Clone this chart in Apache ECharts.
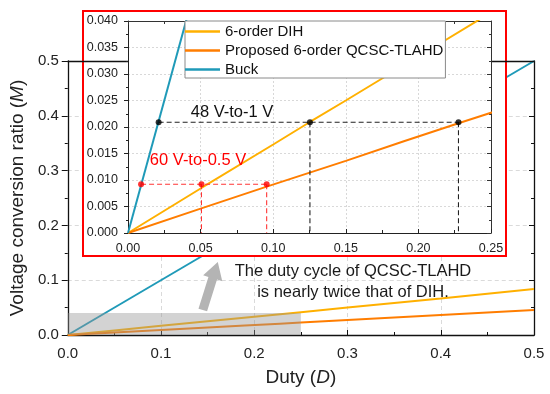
<!DOCTYPE html>
<html>
<head>
<meta charset="utf-8">
<script src="https://cdn.jsdelivr.net/npm/echarts@6/dist/echarts.min.js"></script>
<style>
html,body{margin:0;padding:0;background:#fff;}
#c{width:550px;height:394px;}
</style>
</head>
<body>
<div id="c"></div>
<script>
// ---- data ----
const seriesNames = ['6-order DIH', 'Proposed 6-order QCSC-TLAHD', 'Buck'];
const dutyDIH = [0, 0.05, 0.1, 0.125, 0.15, 0.2, 0.25, 0.3, 0.4, 0.5];
const mDIH = [0, 0.0084, 0.0167, 0.0209, 0.025, 0.0333, 0.0416, 0.05, 0.0667, 0.0838];
const dutyQ = [0, 0.05, 0.095, 0.15, 0.19, 0.2276, 0.25, 0.3, 0.4, 0.5];
const mQ = [0, 0.0046, 0.0087, 0.0136, 0.0173, 0.0207, 0.0227, 0.0272, 0.0363, 0.0455];
const dutyBuck = [0, 0.5];
const mBuck = [0, 0.5];
// operating points 48 V-to-1 V (black) and 60 V-to-0.5 V (red)
const pts48D = [0.0211, 0.1253, 0.2276];
const pts48M = [0.0209, 0.0209, 0.0209];
const pts60D = [0.009, 0.0506, 0.0955];
const pts60M = [0.0092, 0.0092, 0.0092];
// highlighted region in main plot
const zoomRegionD = [0, 0.25];
const zoomRegionM = [0, 0.04];
// arrow (tail, tip) in main data coords
const arrowD = [0.1448, 0.1609];
const arrowM = [0.0456, 0.1332];
// ticks
const mainXTicks = [0, 0.1, 0.2, 0.3, 0.4, 0.5];
const mainYTicks = [0, 0.1, 0.2, 0.3, 0.4, 0.5];
const insetXTicks = [0, 0.05, 0.1, 0.15, 0.2, 0.25];
const insetYTicks = [0, 0.005, 0.01, 0.015, 0.02, 0.025, 0.03, 0.035, 0.04];

const colors = ['#ffb000', '#ff7d00', '#1f9ab8'];
const FONT = 'Liberation Sans, Arial, sans-serif';
const zip = (a, b) => a.map((v, i) => [v, b[i]]);

const chart = echarts.init(document.getElementById('c'), null, {renderer: 'canvas'});

function axisBase(extra) {
  return Object.assign({
    type: 'value',
    axisLine: {show: true, onZero: false, lineStyle: {color: '#111', width: 1.3}},
    splitLine: {show: false}
  }, extra);
}

const mainX = axisBase({
  gridIndex: 0, min: mainXTicks[0], max: mainXTicks[mainXTicks.length - 1], interval: 0.1,
  axisTick: {show: true, inside: true, length: 5, lineStyle: {color: '#111'}},
  minorTick: {show: true, splitNumber: 2, length: 3, lineStyle: {color: '#111'}},
  axisLabel: {color: '#222', fontSize: 15, fontFamily: FONT, margin: 11, formatter: v => v.toFixed(1)},
  splitLine: {show: true, lineStyle: {color: '#d0d0d0', type: [4, 3], width: 0.8}},
  name: 'Duty ({i|D})', nameLocation: 'middle', nameGap: 33,
  nameTextStyle: {color: '#222', fontSize: 19, fontFamily: FONT,
    rich: {i: {fontStyle: 'italic', fontSize: 19, fontFamily: FONT, color: '#222'}}}
});
const mainXTop = axisBase({
  gridIndex: 0, position: 'top', min: 0, max: 0.5, interval: 0.1, z: 55,
  axisTick: {show: false}, axisLabel: {show: false}
});
const mainY = axisBase({
  gridIndex: 0, min: mainYTicks[0], max: mainYTicks[mainYTicks.length - 1], interval: 0.1,
  axisTick: {show: true, inside: false, length: 6, lineStyle: {color: '#111'}},
  minorTick: {show: true, splitNumber: 2, length: 3, lineStyle: {color: '#111'}},
  axisLabel: {color: '#222', fontSize: 15, fontFamily: FONT, margin: 9, formatter: v => v.toFixed(1)},
  splitLine: {show: true, lineStyle: {color: '#d0d0d0', type: [4, 3], width: 0.8}},
  name: 'Voltage conversion ratio ({i|M})', nameLocation: 'middle', nameGap: 40,
  nameTextStyle: {color: '#222', fontSize: 19, fontFamily: FONT,
    rich: {i: {fontStyle: 'italic', fontSize: 19, fontFamily: FONT, color: '#222'}}}
});
const mainYRight = axisBase({
  gridIndex: 0, position: 'right', min: 0, max: 0.5, interval: 0.1,
  axisTick: {show: true, inside: true, length: 5, lineStyle: {color: '#111'}},
  minorTick: {show: true, splitNumber: 2, length: 3, lineStyle: {color: '#111'}},
  axisLabel: {show: false}
});

const insetZ = 60;
const insetX = axisBase({
  gridIndex: 1, z: insetZ, min: insetXTicks[0], max: insetXTicks[insetXTicks.length - 1], interval: 0.05,
  axisLine: {show: true, onZero: false, lineStyle: {color: '#222', width: 1}},
  axisTick: {show: true, inside: true, length: 4, lineStyle: {color: '#222'}},
  minorTick: {show: true, splitNumber: 2, length: 3, lineStyle: {color: '#222'}},
  axisLabel: {color: '#222', fontSize: 12.5, fontFamily: FONT, margin: 9, formatter: v => v.toFixed(2)},
  splitLine: {show: true, lineStyle: {color: '#cfcfcf', type: [2, 2], width: 0.8}}
});
const insetXTop = axisBase({
  gridIndex: 1, z: insetZ, position: 'top', min: 0, max: 0.25, interval: 0.05,
  axisLine: {show: true, onZero: false, lineStyle: {color: '#333', width: 1}},
  axisTick: {show: true, inside: true, length: 4, lineStyle: {color: '#333'}},
  minorTick: {show: true, splitNumber: 2, length: 3, lineStyle: {color: '#333'}},
  axisLabel: {show: false}
});
const insetY = axisBase({
  gridIndex: 1, z: insetZ, min: insetYTicks[0], max: insetYTicks[insetYTicks.length - 1], interval: 0.005,
  axisLine: {show: true, onZero: false, lineStyle: {color: '#222', width: 1}},
  axisTick: {show: true, inside: false, length: 4, lineStyle: {color: '#222'}},
  minorTick: {show: true, splitNumber: 2, length: 2, lineStyle: {color: '#222'}},
  axisLabel: {color: '#222', fontSize: 12.5, fontFamily: FONT, margin: 10, formatter: v => v.toFixed(3)},
  splitLine: {show: true, lineStyle: {color: '#cfcfcf', type: [2, 2], width: 0.8}}
});
const insetYRight = axisBase({
  gridIndex: 1, z: insetZ, position: 'right', min: 0, max: 0.04, interval: 0.005,
  axisLine: {show: true, onZero: false, lineStyle: {color: '#333', width: 1}},
  axisTick: {show: true, inside: true, length: 4, lineStyle: {color: '#333'}},
  minorTick: {show: true, splitNumber: 2, length: 2, lineStyle: {color: '#333'}},
  axisLabel: {show: false}
});

function lineSeries(name, x, y, color, xi, yi, z) {
  return {
    type: 'line', name: name, data: zip(x, y), xAxisIndex: xi, yAxisIndex: yi,
    showSymbol: false, symbol: 'none', clip: true, z: z,
    lineStyle: {color: color, width: 2}, itemStyle: {color: color}
  };
}
// dashed guide segments: one horizontal through the points, verticals down to the axis
function guideSeries(name, D, M, color, verticalIdx) {
  const data = [[D[0], M[0]], [D[D.length - 1], M[M.length - 1]]];
  verticalIdx.forEach(i => { data.push([null, null]); data.push([D[i], M[i]]); data.push([D[i], 0]); });
  return {
    type: 'line', name: name, data: data, xAxisIndex: 2, yAxisIndex: 2, z: 72,
    showSymbol: false, symbol: 'none', connectNulls: false, silent: true,
    lineStyle: {color: color, type: [5, 3], width: 1.1}
  };
}
function dotSeries(name, D, M, color) {
  return {
    type: 'scatter', name: name, data: zip(D, M), xAxisIndex: 2, yAxisIndex: 2, z: 75,
    symbol: 'circle', symbolSize: 6, itemStyle: {color: color}, silent: true
  };
}

const series = [
  // main plot
  lineSeries(seriesNames[2], dutyBuck, mBuck, colors[2], 0, 0, 2),
  lineSeries(seriesNames[0], dutyDIH, mDIH, colors[0], 0, 0, 2),
  lineSeries(seriesNames[1], dutyQ, mQ, colors[1], 0, 0, 2),
  // inset
  lineSeries(seriesNames[0], dutyDIH, mDIH, colors[0], 2, 2, 70),
  lineSeries(seriesNames[1], dutyQ, mQ, colors[1], 2, 2, 70),
  lineSeries(seriesNames[2], dutyBuck, mBuck, colors[2], 2, 2, 70),
  guideSeries('g48', pts48D, pts48M, '#222', [1, 2]),
  guideSeries('g60', pts60D, pts60M, '#ff3535', [1, 2]),
  dotSeries('p48', pts48D, pts48M, '#000'),
  dotSeries('p60', pts60D, pts60M, '#ff0000')
];

chart.setOption({
  animation: false,
  backgroundColor: '#fff',
  grid: [
    {left: 67, right: 16, top: 61, bottom: 59, containLabel: false},
    {left: 128, right: 59, top: 21, bottom: 161, containLabel: false, z: 58,
     show: true, backgroundColor: '#fff', borderWidth: 0}
  ],
  xAxis: [mainX, mainXTop, insetX, insetXTop],
  yAxis: [mainY, mainYRight, insetY, insetYRight],
  legend: {
    data: seriesNames, orient: 'vertical', left: 185, top: 21, z: 80,
    icon: 'rect', itemWidth: 35, itemHeight: 2.5, itemGap: 4,
    padding: [3, 2, 1, 0], backgroundColor: '#fff', borderColor: '#8a8a8a', borderWidth: 1,
    borderRadius: 0, selectedMode: false,
    textStyle: {color: '#111', fontSize: 15, fontFamily: FONT}
  },
  series: series
});

// annotations anchored to the chart's own coordinate system
const px = (d, m) => chart.convertToPixel({xAxisIndex: 0, yAxisIndex: 0}, [d, m]);
const r0 = px(zoomRegionD[0], zoomRegionM[0]);
const r1 = px(zoomRegionD[1], zoomRegionM[1]);
const tail = px(arrowD[0], arrowM[0]);
const tip = px(arrowD[1], arrowM[1]);
const ang = Math.atan2(tip[1] - tail[1], tip[0] - tail[0]);
const len = Math.hypot(tip[0] - tail[0], tip[1] - tail[1]);
const hw = 4.5, headW = 10, headL = 17;
const local = [[0, -hw], [len - headL, -hw], [len - headL, -headW], [len, 0], [len - headL, headW], [len - headL, hw], [0, hw]];
const arrowPts = local.map(p => [
  tail[0] + p[0] * Math.cos(ang) - p[1] * Math.sin(ang),
  tail[1] + p[0] * Math.sin(ang) + p[1] * Math.cos(ang)
]);

chart.setOption({
  graphic: [
    {type: 'rect', z: 10, silent: true,
      shape: {x: Math.min(r0[0], r1[0]), y: Math.min(r0[1], r1[1]),
              width: Math.abs(r1[0] - r0[0]), height: Math.abs(r1[1] - r0[1])},
      style: {fill: 'rgba(150,150,150,0.42)'}},
    {type: 'rect', z: 50, shape: {x: 83, y: 11, width: 423, height: 245},
      style: {fill: '#fff', stroke: '#ff0000', lineWidth: 2}},
    {type: 'polygon', z: 10, shape: {points: arrowPts}, style: {fill: '#b4b4b4'}},
    {type: 'text', z: 90, style: {x: 353, y: 271, text: 'The duty cycle of QCSC-TLAHD', fill: '#1a1a1a',
      font: '16.5px ' + FONT, textAlign: 'center', textVerticalAlign: 'middle'}},
    {type: 'text', z: 90, style: {x: 353, y: 292, text: 'is nearly twice that of DIH.', fill: '#1a1a1a',
      font: '16.5px ' + FONT, textAlign: 'center', textVerticalAlign: 'middle'}},
    {type: 'text', z: 90, style: {x: 232, y: 112, text: '48 V-to-1 V', fill: '#111',
      font: '16.5px ' + FONT, textAlign: 'center', textVerticalAlign: 'middle'}},
    {type: 'text', z: 90, style: {x: 198, y: 160, text: '60 V-to-0.5 V', fill: '#ff0000',
      font: '16.5px ' + FONT, textAlign: 'center', textVerticalAlign: 'middle'}}
  ]
});
</script>
</body>
</html>
